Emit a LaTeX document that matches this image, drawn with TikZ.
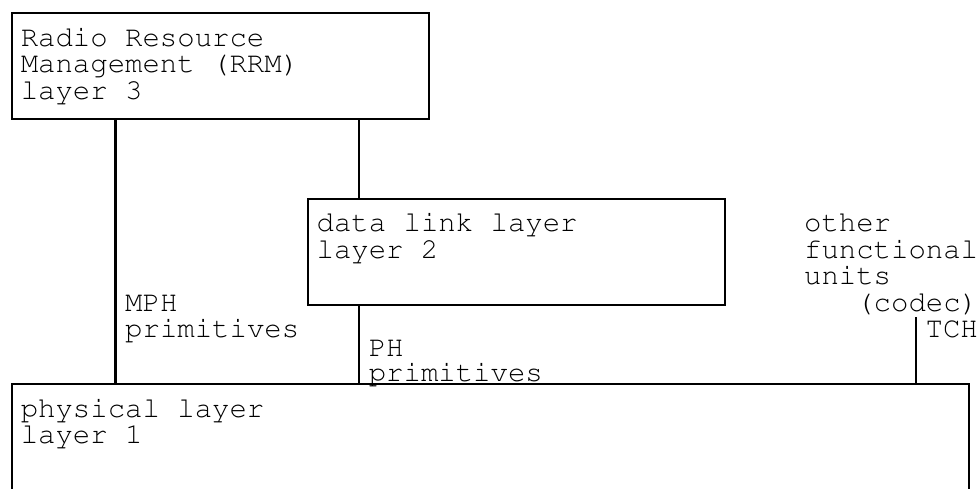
\documentclass[tikz,border=0pt]{standalone}
\usepackage[T1]{fontenc}
\usepackage{courier}
\begin{document}
\begin{tikzpicture}[x=0.5pt,y=-0.5pt,line width=1.1pt]
	\def \rowrrm{12}
	\def \rowdll{197.5}
	\def \rowphy{383}
	\tikzstyle{l-box}=[draw=black,rectangle,inner sep=0pt,anchor=north west]
	\tikzstyle{annot}=[font=\ttfamily\fontsize{14.5}{13.25}\selectfont,inner sep=0pt,anchor=base west]
	\useasboundingbox (0,0) rectangle (979,488);
	\clip (0,0) rectangle (979,488);

	% layer boxes
	\node[l-box,minimum width=208.5pt,minimum height=53pt]	(rrm)	at (11,\rowrrm)		{};
	\node[l-box,minimum width=208.5pt,minimum height=53pt]	(dll)	at (306.8,\rowdll)	{};
	\node[l-box,minimum width=478.5pt,minimum height=70pt]	(phy)	at (11,\rowphy)		{};

	% box texts
	\node[annot]	(rrm-1)	at (19.7,46)		{Radio Resource};
	\node[annot]	(rrm-2)	at (19.7,72.5)		{Management (RRM)};
	\node[annot]	(rrm-3)	at (19.7,99)		{layer 3};
	\node[annot]	(dll-1)	at (315.5,231.5)	{data link layer};
	\node[annot]	(dll-2)	at (315.5,258)		{layer 2};
	\node[annot]	(phy-1)	at (19.7,417)		{physical layer};
	\node[annot]	(phy-2)	at (19.7,443.5)		{layer 1};

	% other functional units
	\node[annot]	(oth-1)	at (803,231.5)		{other};
	\node[annot]	(oth-2)	at (803,258)		{functional};
	\node[annot]	(oth-3)	at (803,284.5)		{units};
	\node[annot]	(oth-4)	at (855.2,311)		{(codec)};

	% primitives
	\node[annot]	(mph-1)	at (124.1,311)		{MPH};
	\node[annot]	(mph-2)	at (124.1,337.5)	{primitives};
	\node[annot]	(ph-1)	at (367.7,356)		{PH};
	\node[annot]	(ph-2)	at (367.7,381.5)	{primitives};
	\node[annot]	(tch)	at (924.5,337.5)	{TCH};

	% columns of the links
	\coordinate (c-mph) at (115.4,0);
	\coordinate (c-ph) at (359,0);
	\coordinate (tch-top) at (915.8,317);

	\path
		(rrm.south -| c-mph)	edge	(phy.north -| c-mph)
		(rrm.south -| c-ph)	edge	(dll.north -| c-ph)
		(dll.south -| c-ph)	edge	(phy.north -| c-ph)
		(tch-top)		edge	(phy.north -| tch-top);
\end{tikzpicture}
\end{document}
